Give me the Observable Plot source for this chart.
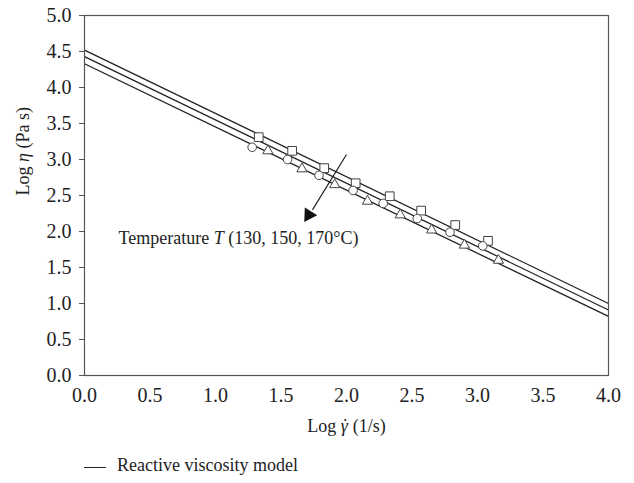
<!DOCTYPE html>
<html>
<head>
<meta charset="utf-8">
<script src="https://cdn.jsdelivr.net/npm/d3@7"></script>
<script src="https://cdn.jsdelivr.net/npm/@observablehq/plot@0.6"></script>
<style>
  body { margin: 0; background: #fff; font-family: "Liberation Serif", "DejaVu Serif", serif; }
  #legend { position: relative; height: 43px; font-size: 18px; color: #222; }
  #legend .ln { position: absolute; left: 84px; top: 27px; width: 22px; border-top: 1.3px solid #222; }
  #legend .tx { position: absolute; left: 117px; top: 15px; }
  svg text { font-family: "Liberation Serif", "DejaVu Serif", serif; }
</style>
</head>
<body>
<div id="chart"></div>
<div id="legend"><div class="ln"></div><div class="tx">Reactive viscosity model</div></div>
<script>
// Model lines (intercept at log shear rate 0, value at 4)
const lineNames = ["170", "150", "130"];
const lineX0 = [0, 0, 0];
const lineY0 = [4.52, 4.43, 4.33];
const lineX1 = [4, 4, 4];
const lineY1 = [1.00, 0.91, 0.82];

// Experimental points
const squareX = [1.33, 1.585, 1.83, 2.07, 2.33, 2.57, 2.83, 3.08];
const squareY = [3.31, 3.12, 2.88, 2.67, 2.49, 2.29, 2.09, 1.87];
const circleX = [1.28, 1.55, 1.79, 2.05, 2.28, 2.54, 2.79, 3.04];
const circleY = [3.17, 3.00, 2.78, 2.57, 2.39, 2.18, 1.99, 1.80];
const triX = [1.40, 1.66, 1.91, 2.16, 2.41, 2.65, 2.90, 3.16];
const triY = [3.12, 2.87, 2.65, 2.42, 2.23, 2.02, 1.81, 1.60];

const xTicks = [0, 0.5, 1, 1.5, 2, 2.5, 3, 3.5, 4];
const yTicks = [0, 0.5, 1, 1.5, 2, 2.5, 3, 3.5, 4, 4.5, 5];

// Arrow annotation
const arrowStart = {x: 2.0, y: 3.07};
const arrowEnd = {x: 1.74, y: 2.30};
const arrowHead = {x: 1.712, y: 2.23};
const annotation = {x: 0.26, y: 1.90, text: "Temperature T (130, 150, 170°C)"};

const lines = lineNames.map((n, i) => ({n, x0: lineX0[i], y0: lineY0[i], x1: lineX1[i], y1: lineY1[i]}));
const squares = squareX.map((x, i) => ({x, y: squareY[i]}));
const circles = circleX.map((x, i) => ({x, y: circleY[i]}));
const tris = triX.map((x, i) => ({x, y: triY[i]}));

const ink = "#222";
const axisInk = "#555";
const fs = 18;
const tickFs = 20;

const chart = Plot.plot({
  width: 634,
  height: 440,
  marginTop: 15,
  marginLeft: 84,
  marginRight: 26,
  marginBottom: 65,
  style: {fontFamily: "'Liberation Serif', 'DejaVu Serif', serif", fontSize: fs + "px", color: ink, background: "#fff"},
  x: {domain: [0, 4], label: null},
  y: {domain: [0, 5], label: null},
  marks: [
    Plot.link(lines, {x1: "x0", y1: "y0", x2: "x1", y2: "y1", stroke: ink, strokeWidth: 1.3}),
    Plot.dot(squares, {x: "x", y: "y", symbol: "square", r: 4.9, stroke: "#444", strokeWidth: 1, fill: "#fff"}),
    Plot.dot(circles, {x: "x", y: "y", symbol: "circle", r: 4.3, stroke: "#444", strokeWidth: 1, fill: "#fff"}),
    Plot.dot(tris, {x: "x", y: "y", symbol: "triangle", r: 3.8, stroke: "#444", strokeWidth: 1, fill: "#fff"}),
    Plot.link([0], {x1: () => arrowStart.x, y1: () => arrowStart.y, x2: () => arrowEnd.x, y2: () => arrowEnd.y, stroke: ink, strokeWidth: 1.2}),
    Plot.dot([0], {x: () => arrowHead.x, y: () => arrowHead.y, symbol: "triangle2", r: 7, fill: "#111", stroke: "none", rotate: 212}),
    Plot.text([annotation], {x: "x", y: "y", text: "text", textAnchor: "start", fill: ink, fontSize: fs, className: "annot"}),
    Plot.axisX({ticks: xTicks, tickFormat: d3.format(".1f"), tickSize: 0, tickPadding: 12, stroke: axisInk, fill: ink, label: null, fontSize: tickFs}),
    Plot.axisY({ticks: yTicks, tickFormat: d3.format(".1f"), tickSize: 5, tickPadding: 8, stroke: axisInk, fill: ink, label: null, fontSize: tickFs}),
    Plot.frame({stroke: axisInk, strokeWidth: 1.2}),
    Plot.text(["x"], {frameAnchor: "bottom", dy: 56, text: () => "Log γ (1/s)", className: "xlab", fill: ink, fontSize: fs}),
    Plot.text(["y"], {frameAnchor: "left", dx: -61, rotate: -90, text: () => "Log η (Pa s)", className: "ylab", fill: ink, fontSize: fs})
  ]
});
document.getElementById("chart").appendChild(chart);

// Enlarge tick labels (all numeric "d.d" texts)
d3.select(chart).selectAll("text").each(function() {
  if (/^\d\.\d$/.test(this.textContent.trim())) {
    this.style.fontSize = tickFs + "px";
  }
});

// Italicize symbols inside the annotation and axis titles
function italicize(sel, before, ital, after, dot) {
  const t = d3.select(chart).select(sel + " text");
  if (t.empty()) return;
  t.text(null);
  t.append("tspan").text(before);
  t.append("tspan").attr("font-style", "italic").text(ital);
  if (dot) t.append("tspan").attr("dx", "-0.32em").text("\u02D9");
  t.append("tspan").text(after);
}
italicize(".annot", "Temperature ", "T", " (130, 150, 170°C)");
italicize(".xlab", "Log ", "γ", " (1/s)", true);
italicize(".ylab", "Log ", "η", " (Pa s)");
</script>
</body>
</html>
